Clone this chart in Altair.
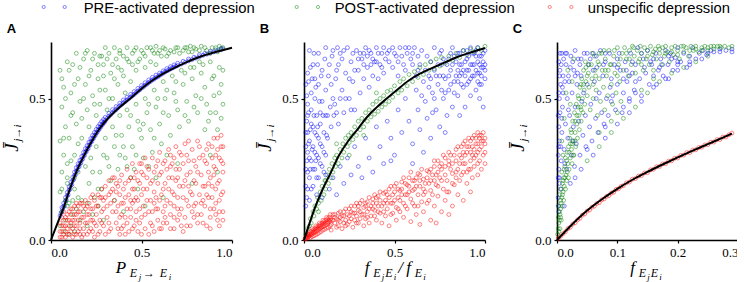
import altair as alt
import pandas as pd

SERIES = ["PRE", "POST", "unspec"]
COLORS = ["#0000ff", "#008000", "#ff0000"]
LEGEND_LABELS = ["PRE-activated depression", "POST-activated depression", "unspecific depression"]
SERIF = "'Liberation Serif', 'Times New Roman', 'DejaVu Serif', serif"
SANS = "'Liberation Sans', Arial, Helvetica, 'DejaVu Sans', sans-serif"

# ---------------- Panel A ----------------
A_curve_x = [0, 0.035, 0.07, 0.1, 0.135, 0.18, 0.227, 0.27, 0.319, 0.38, 0.438, 0.5, 0.558, 0.62, 0.687, 0.75, 0.816, 0.9, 1.0]
A_curve_y = [0, 0.058, 0.115, 0.172, 0.233, 0.295, 0.351, 0.395, 0.433, 0.47, 0.5, 0.535, 0.563, 0.588, 0.61, 0.629, 0.646, 0.663, 0.68]

A_pre = [(0.05,0.085),(0.055,0.095),(0.06,0.10),(0.065,0.11),(0.07,0.118),(0.075,0.122),(0.08,0.137),(0.085,0.142),
 (0.09,0.156),(0.095,0.16),(0.10,0.176),(0.105,0.18),(0.11,0.193),(0.115,0.196),(0.12,0.21),(0.125,0.214),(0.13,0.228),
 (0.135,0.231),(0.14,0.244),(0.145,0.245),(0.15,0.258),(0.155,0.259),(0.16,0.27),(0.165,0.272),(0.17,0.284),(0.175,0.286),
 (0.18,0.298),(0.185,0.299),(0.19,0.311),(0.195,0.312),(0.20,0.322),(0.205,0.323),(0.21,0.334),(0.215,0.336),(0.22,0.347),
 (0.225,0.348),(0.23,0.358),(0.235,0.359),(0.24,0.368),(0.245,0.37),(0.25,0.379),(0.255,0.38),(0.26,0.389),(0.265,0.39),
 (0.27,0.399),(0.275,0.399),(0.28,0.407),(0.285,0.408),(0.29,0.415),(0.295,0.416),(0.30,0.422),(0.31,0.43),(0.32,0.437),
 (0.33,0.443),(0.34,0.45),(0.35,0.456),(0.36,0.461),(0.37,0.468),(0.38,0.474),(0.39,0.479),(0.40,0.485),(0.41,0.49),
 (0.42,0.495),(0.43,0.5),(0.44,0.505),(0.45,0.51),(0.46,0.515),(0.47,0.521),(0.48,0.526),(0.49,0.531),(0.50,0.537),
 (0.51,0.541),(0.52,0.547),(0.53,0.551),(0.54,0.557),(0.55,0.561),(0.56,0.566),(0.57,0.569),(0.58,0.574),(0.59,0.577),
 (0.60,0.582),(0.61,0.586),(0.62,0.59),(0.63,0.594),(0.64,0.598),(0.65,0.601),(0.66,0.605),(0.67,0.608),(0.68,0.611),
 (0.69,0.614),(0.70,0.617),(0.72,0.622),(0.74,0.628),(0.76,0.633),(0.78,0.638),(0.80,0.643),(0.82,0.648),(0.84,0.653),
 (0.86,0.657),(0.88,0.661),(0.90,0.665),(0.92,0.669),(0.94,0.673),(0.95,0.676),
 (0.06,0.115),(0.07,0.13),(0.08,0.15),(0.09,0.168),(0.10,0.188),(0.11,0.205),(0.12,0.222),(0.13,0.24),(0.14,0.256),
 (0.15,0.27),(0.16,0.282),(0.17,0.296),(0.18,0.31),(0.19,0.323),(0.20,0.334),(0.21,0.346),(0.22,0.359),(0.23,0.37),
 (0.24,0.38),(0.25,0.391),(0.26,0.401),(0.27,0.41),(0.28,0.419),(0.29,0.426),(0.30,0.434),(0.32,0.448),(0.34,0.461),
 (0.36,0.472),(0.38,0.484),(0.40,0.495),(0.42,0.505),(0.44,0.515),(0.46,0.525),(0.48,0.536),(0.50,0.546),(0.52,0.556),
 (0.54,0.566),(0.56,0.575),(0.58,0.583),(0.60,0.59),(0.62,0.598),(0.64,0.606),(0.66,0.613),(0.68,0.619),(0.70,0.625),
 (0.73,0.632),(0.76,0.64),(0.79,0.646),(0.82,0.655),(0.85,0.66),(0.88,0.667),(0.91,0.672),(0.94,0.678)]

A_post = [(0.32,0.66),(0.35,0.68),(0.38,0.67),(0.40,0.65),(0.42,0.68),(0.45,0.66),(0.47,0.68),(0.50,0.67),(0.52,0.65),
 (0.55,0.68),(0.57,0.66),(0.60,0.67),(0.62,0.68),(0.64,0.65),(0.66,0.67),(0.69,0.68),(0.71,0.66),(0.74,0.68),(0.76,0.665),
 (0.79,0.68),(0.82,0.67),(0.85,0.68),(0.88,0.66),(0.91,0.68),(0.94,0.675),(0.27,0.65),(0.30,0.68),(0.58,0.685),(0.77,0.685),
 (0.93,0.685),
 (0.05,0.60),(0.07,0.54),(0.06,0.47),(0.08,0.40),(0.05,0.35),(0.07,0.30),(0.06,0.24),(0.09,0.20),(0.05,0.17),(0.10,0.60),
 (0.11,0.52),(0.12,0.45),(0.10,0.36),(0.13,0.30),(0.12,0.62),(0.15,0.57),(0.16,0.49),(0.14,0.41),(0.17,0.36),(0.18,0.64),
 (0.19,0.55),(0.20,0.46),(0.21,0.40),(0.22,0.60),(0.23,0.51),(0.25,0.44),(0.24,0.66),(0.26,0.57),(0.27,0.48),(0.29,0.62),
 (0.30,0.53),(0.31,0.46),(0.33,0.59),(0.34,0.50),(0.36,0.64),(0.37,0.55),(0.39,0.60),(0.41,0.52),(0.43,0.63),(0.44,0.56),
 (0.47,0.60),(0.49,0.64),(0.52,0.61),(0.55,0.63),(0.58,0.62),(0.08,0.50),(0.14,0.66),(0.20,0.67),(0.09,0.27),(0.15,0.34),
 (0.28,0.65),(0.18,0.50),
 (0.10,0.13),(0.13,0.18),(0.15,0.24),(0.17,0.14),(0.19,0.26),(0.21,0.20),(0.22,0.29),(0.24,0.15),(0.25,0.33),(0.27,0.24),
 (0.28,0.18),(0.30,0.36),(0.31,0.29),(0.33,0.21),(0.34,0.40),(0.35,0.33),(0.37,0.25),(0.38,0.44),(0.39,0.37),(0.41,0.29),
 (0.42,0.46),(0.43,0.40),(0.45,0.33),(0.46,0.25),(0.47,0.48),(0.48,0.42),(0.50,0.36),(0.51,0.29),(0.52,0.50),(0.53,0.45),
 (0.55,0.39),(0.56,0.31),(0.57,0.53),(0.58,0.47),(0.60,0.41),(0.61,0.34),(0.62,0.56),(0.63,0.50),(0.65,0.44),(0.66,0.37),
 (0.67,0.58),(0.68,0.52),(0.70,0.46),(0.71,0.40),(0.72,0.60),(0.73,0.55),(0.75,0.49),(0.76,0.42),(0.77,0.61),(0.78,0.57),
 (0.80,0.51),(0.81,0.45),(0.82,0.63),(0.83,0.59),(0.85,0.54),(0.86,0.48),(0.87,0.42),(0.88,0.63),(0.89,0.57),(0.90,0.51),
 (0.91,0.45),(0.92,0.39),(0.93,0.61),(0.94,0.55),(0.95,0.48),(0.94,0.43),(0.85,0.39),(0.64,0.30),(0.54,0.26),(0.44,0.22),
 (0.05,0.05),(0.06,0.10),(0.07,0.03),(0.08,0.07),(0.09,0.12),(0.11,0.05),(0.12,0.09),(0.13,0.03),(0.14,0.11),(0.16,0.07),
 (0.18,0.10),(0.20,0.05),(0.23,0.09),(0.26,0.12),(0.29,0.07),(0.35,0.14),(0.40,0.10),(0.48,0.18),(0.52,0.12),(0.58,0.22),
 (0.62,0.15),(0.70,0.27),(0.78,0.20),(0.88,0.30),(0.92,0.24),(0.10,0.02),(0.15,0.15),(0.06,0.18),(0.09,0.22),(0.12,0.14),
 (0.06,0.57),(0.09,0.63),(0.11,0.44),(0.13,0.55),(0.16,0.61),(0.17,0.43),(0.19,0.66),(0.21,0.58),(0.23,0.64),(0.24,0.48),
 (0.26,0.62),(0.27,0.53),(0.29,0.58),(0.31,0.64),(0.32,0.50),(0.34,0.62),(0.35,0.57),(0.37,0.61),(0.38,0.66),(0.40,0.58),
 (0.42,0.64),(0.45,0.62),(0.46,0.67),(0.48,0.63),(0.51,0.66),(0.53,0.68),(0.56,0.67),(0.59,0.66),(0.61,0.65),(0.63,0.675),
 (0.65,0.66),(0.68,0.665),(0.70,0.68),(0.73,0.67),(0.75,0.68),(0.78,0.665),(0.80,0.675),(0.83,0.685),(0.86,0.67),(0.89,0.68),
 (0.92,0.665),(0.95,0.68),(0.07,0.36),(0.11,0.28),(0.08,0.14),(0.13,0.22),(0.20,0.13),(0.23,0.24),(0.26,0.18),(0.29,0.30),
 (0.32,0.26),(0.36,0.37),(0.40,0.33),(0.44,0.44),(0.49,0.39),(0.54,0.48),(0.59,0.50),(0.64,0.53),(0.69,0.56),(0.74,0.59),
 (0.79,0.61),(0.84,0.62),(0.90,0.58),(0.95,0.60),(0.93,0.52),(0.88,0.45),(0.83,0.50),(0.79,0.47),(0.74,0.44),(0.69,0.49),
 (0.62,0.45),(0.57,0.36),(0.47,0.30),(0.51,0.41),(0.38,0.30),(0.42,0.26)]

A_unspec = [(0.05,0.01),(0.06,0.03),(0.05,0.06),(0.07,0.02),(0.07,0.05),(0.08,0.08),(0.06,0.08),(0.08,0.01),(0.09,0.04),
 (0.09,0.07),(0.10,0.10),(0.10,0.02),(0.11,0.06),(0.11,0.09),(0.12,0.01),(0.12,0.04),(0.12,0.11),(0.13,0.07),(0.13,0.12),
 (0.14,0.02),(0.14,0.05),(0.14,0.09),(0.15,0.12),(0.15,0.03),(0.16,0.06),(0.16,0.10),(0.17,0.13),(0.17,0.01),(0.18,0.04),
 (0.18,0.08),(0.19,0.11),(0.19,0.14),(0.20,0.02),(0.20,0.06),(0.21,0.09),(0.21,0.13),(0.22,0.04),(0.22,0.15),(0.23,0.07),
 (0.23,0.11),(0.24,0.01),(0.24,0.14),(0.25,0.05),(0.25,0.09),(0.26,0.16),(0.26,0.12),(0.27,0.03),(0.27,0.07),(0.28,0.18),
 (0.28,0.10),(0.29,0.14),(0.29,0.05),(0.30,0.02),(0.30,0.19),(0.07,0.10),
 (0.31,0.08),(0.31,0.12),(0.32,0.16),(0.32,0.21),(0.33,0.04),(0.34,0.10),(0.34,0.18),(0.35,0.14),(0.35,0.22),(0.36,0.06),
 (0.37,0.12),(0.37,0.19),(0.38,0.02),(0.38,0.16),(0.39,0.09),(0.39,0.23),(0.40,0.05),(0.40,0.13),(0.41,0.20),(0.42,0.11),
 (0.42,0.25),(0.43,0.03),(0.43,0.16),(0.44,0.08),(0.44,0.22),(0.45,0.13),(0.45,0.27),(0.46,0.05),(0.46,0.18),(0.47,0.10),
 (0.47,0.24),(0.48,0.14),(0.48,0.03),(0.49,0.20),(0.49,0.27),(0.50,0.08),(0.50,0.16),(0.51,0.12),(0.51,0.23),(0.52,0.04),
 (0.52,0.29),(0.53,0.18),(0.54,0.10),(0.54,0.25),(0.55,0.06),(0.55,0.14),(0.56,0.21),(0.56,0.29),(0.57,0.03),(0.57,0.17),
 (0.58,0.11),(0.58,0.26),(0.59,0.07),(0.59,0.20),(0.60,0.14),(0.60,0.31),
 (0.61,0.04),(0.61,0.24),(0.62,0.10),(0.62,0.18),(0.63,0.28),(0.64,0.06),(0.64,0.14),(0.65,0.22),(0.65,0.32),(0.66,0.09),
 (0.67,0.17),(0.67,0.27),(0.68,0.04),(0.68,0.12),(0.69,0.21),(0.69,0.33),(0.70,0.07),(0.70,0.15),(0.71,0.25),(0.72,0.11),
 (0.72,0.30),(0.73,0.03),(0.73,0.19),(0.74,0.08),(0.74,0.34),(0.75,0.14),(0.75,0.23),(0.76,0.28),(0.77,0.05),(0.77,0.17),
 (0.78,0.10),(0.78,0.32),(0.79,0.21),(0.80,0.13),(0.80,0.26),(0.81,0.06),(0.81,0.35),(0.82,0.16),(0.83,0.09),(0.83,0.23),
 (0.84,0.30),(0.85,0.12),(0.85,0.19),(0.86,0.05),(0.86,0.27),(0.87,0.34),(0.87,0.15),(0.88,0.08),(0.88,0.22),(0.89,0.29),
 (0.90,0.11),(0.90,0.36),(0.91,0.18),(0.91,0.25),(0.92,0.07),(0.92,0.32),(0.93,0.14),(0.93,0.21),(0.94,0.28),(0.94,0.37),
 (0.95,0.10),(0.95,0.24),(0.95,0.33),(0.88,0.04),(0.93,0.05),
 (0.05,0.03),(0.06,0.05),(0.06,0.01),(0.07,0.07),(0.08,0.03),(0.08,0.05),(0.09,0.02),(0.09,0.09),(0.10,0.05),(0.10,0.07),
 (0.11,0.03),(0.11,0.11),(0.12,0.07),(0.13,0.02),(0.13,0.05),(0.13,0.09),(0.14,0.13),(0.15,0.07),(0.15,0.10),(0.16,0.02),
 (0.16,0.04),(0.16,0.13),(0.17,0.08),(0.18,0.12),(0.18,0.02),(0.19,0.06),(0.20,0.09),(0.20,0.12),(0.21,0.03),(0.22,0.07),
 (0.22,0.11),(0.23,0.03),(0.24,0.06),(0.25,0.12),(0.26,0.02),(0.27,0.15),(0.28,0.06),(0.29,0.11),(0.30,0.15),(0.32,0.06),
 (0.33,0.13),(0.36,0.17),(0.39,0.04),(0.41,0.08),(0.44,0.14),(0.46,0.22),(0.49,0.06),(0.53,0.22),(0.56,0.10),(0.59,0.28),
 (0.63,0.20),(0.66,0.13),(0.68,0.29),(0.71,0.09),(0.73,0.27),(0.76,0.19),(0.79,0.08),(0.82,0.29),(0.84,0.14),(0.86,0.32),
 (0.89,0.19),(0.91,0.09),(0.93,0.29),(0.95,0.17),(0.90,0.26),(0.70,0.22),(0.50,0.24),(0.62,0.06),
 (0.32,0.03),(0.33,0.17),(0.34,0.22),(0.36,0.10),(0.36,0.20),(0.37,0.04),(0.38,0.08),(0.39,0.13),(0.40,0.18),(0.41,0.02),
 (0.41,0.15),(0.42,0.06),(0.43,0.21),(0.44,0.11),(0.45,0.04),(0.45,0.18),(0.46,0.14),(0.47,0.07),(0.48,0.21),(0.49,0.11),
 (0.50,0.02),(0.50,0.27),(0.51,0.18),(0.52,0.09),(0.53,0.14),(0.53,0.26),(0.54,0.02),(0.55,0.20),(0.56,0.05),(0.57,0.24),
 (0.58,0.15),(0.59,0.11),(0.60,0.04),(0.60,0.23),(0.61,0.16),(0.62,0.27),(0.63,0.08),(0.63,0.12),(0.64,0.25),(0.65,0.18),
 (0.66,0.04),(0.66,0.30),(0.67,0.22),(0.68,0.08),(0.68,0.16),(0.69,0.25),(0.70,0.11),(0.71,0.19),(0.71,0.31),(0.72,0.05),
 (0.73,0.15),(0.74,0.21),(0.75,0.05),(0.75,0.30),(0.76,0.12),(0.77,0.24),(0.78,0.16),(0.79,0.28),(0.79,0.12),(0.80,0.20),
 (0.81,0.09),(0.81,0.24),(0.82,0.33),(0.83,0.13),(0.84,0.19),(0.84,0.06),(0.85,0.28),(0.86,0.16),(0.87,0.24),(0.88,0.11),
 (0.89,0.33),(0.89,0.15),(0.90,0.23),(0.91,0.13),(0.91,0.30),(0.92,0.20),(0.93,0.10),(0.94,0.16),(0.94,0.33),(0.95,0.07),
 (0.95,0.27),(0.92,0.36),(0.87,0.20),(0.76,0.35),(0.66,0.26),(0.57,0.13),(0.47,0.15),(0.38,0.21),(0.28,0.15),(0.23,0.16)]

# ---------------- Panel B ----------------
B_curve_x = [0, 0.03, 0.061, 0.1, 0.144, 0.19, 0.245, 0.3, 0.346, 0.4, 0.457, 0.52, 0.577, 0.64, 0.715, 0.78, 0.844, 0.92, 1.0]
B_curve_y = [0, 0.058, 0.115, 0.175, 0.233, 0.295, 0.351, 0.395, 0.433, 0.468, 0.5, 0.534, 0.563, 0.588, 0.61, 0.628, 0.646, 0.663, 0.679]

B_pre = [(0.01,0.12),(0.02,0.18),(0.01,0.25),(0.02,0.31),(0.01,0.38),(0.02,0.44),(0.03,0.14),(0.03,0.22),(0.04,0.28),
 (0.03,0.35),(0.04,0.41),(0.05,0.19),(0.05,0.33),(0.06,0.25),(0.06,0.38),(0.07,0.44),(0.07,0.30),(0.08,0.22),(0.08,0.36),
 (0.09,0.27),(0.09,0.41),(0.10,0.33),(0.11,0.38),(0.11,0.24),(0.12,0.30),(0.12,0.44),(0.02,0.48),(0.04,0.52),(0.06,0.50),
 (0.08,0.55),(0.10,0.49),(0.12,0.53),(0.02,0.59),(0.05,0.62),(0.08,0.66),(0.10,0.60),(0.12,0.68),(0.03,0.67),(0.06,0.57),
 (0.09,0.45),(0.01,0.55),(0.04,0.46),(0.10,0.15),(0.07,0.16),
 (0.14,0.62),(0.15,0.55),(0.16,0.67),(0.17,0.48),(0.18,0.60),(0.19,0.41),(0.20,0.66),(0.21,0.53),(0.22,0.45),(0.23,0.59),
 (0.24,0.68),(0.25,0.50),(0.26,0.63),(0.27,0.56),(0.28,0.46),(0.29,0.67),(0.30,0.60),(0.31,0.52),(0.32,0.64),(0.33,0.57),
 (0.34,0.68),(0.35,0.61),(0.36,0.54),(0.37,0.66),(0.38,0.58),(0.39,0.63),(0.40,0.68),(0.41,0.57),(0.42,0.62),(0.43,0.66),
 (0.44,0.59),(0.45,0.64),
 (0.14,0.18),(0.16,0.22),(0.18,0.16),(0.20,0.26),(0.22,0.20),(0.24,0.29),(0.26,0.23),(0.28,0.33),(0.30,0.26),(0.32,0.22),
 (0.34,0.36),(0.36,0.29),(0.38,0.24),(0.40,0.40),(0.42,0.33),(0.44,0.27),(0.46,0.42),(0.48,0.36),(0.50,0.30),
 (0.47,0.67),(0.49,0.61),(0.51,0.65),(0.53,0.68),(0.55,0.62),(0.57,0.66),(0.59,0.64),(0.61,0.68),(0.63,0.65),(0.65,0.67),
 (0.52,0.58),(0.56,0.60),(0.60,0.62),
 (0.52,0.46),(0.54,0.38),(0.56,0.50),(0.58,0.42),(0.60,0.34),(0.62,0.53),(0.63,0.46),(0.64,0.39),(0.66,0.56),(0.67,0.49),
 (0.68,0.43),(0.69,0.58),(0.70,0.36),(0.71,0.52),(0.72,0.60),(0.73,0.46),(0.74,0.55),(0.75,0.40),(0.76,0.62),(0.77,0.50),
 (0.78,0.57),(0.79,0.44),(0.80,0.64),(0.80,0.53),(0.81,0.60),(0.82,0.47),(0.83,0.56),(0.84,0.63),(0.85,0.51),(0.85,0.66),
 (0.86,0.58),(0.87,0.62),(0.88,0.54),(0.88,0.67),(0.89,0.47),(0.90,0.60),(0.90,0.64),(0.91,0.56),(0.92,0.68),(0.92,0.51),
 (0.93,0.62),(0.94,0.58),(0.94,0.66),(0.95,0.53),(0.96,0.63),(0.96,0.68),(0.97,0.59),(0.98,0.55),(0.98,0.65),(0.99,0.61),
 (1.0,0.67),(1.0,0.57),(0.97,0.50),(0.99,0.47),(0.78,0.38),(0.66,0.31),(0.72,0.68),(0.75,0.66),(0.82,0.68),(0.86,0.44),
 (0.70,0.63),(0.60,0.27),(0.48,0.28),
 (0.01,0.19),(0.02,0.24),(0.01,0.33),(0.02,0.38),(0.03,0.29),(0.04,0.18),(0.05,0.25),(0.05,0.40),(0.06,0.31),(0.07,0.22),
 (0.07,0.37),(0.08,0.29),(0.09,0.34),(0.10,0.26),(0.11,0.31),(0.12,0.23),(0.13,0.36),(0.13,0.44),(0.15,0.40),(0.16,0.50),
 (0.18,0.45),(0.19,0.62),(0.21,0.64),(0.23,0.50),(0.26,0.46),(0.28,0.60),(0.31,0.66),(0.33,0.62),(0.36,0.67),(0.38,0.64),
 (0.41,0.66),(0.44,0.68),(0.47,0.63),(0.50,0.66),(0.54,0.65),(0.58,0.68),(0.62,0.58),(0.64,0.62),(0.67,0.60),(0.69,0.54),
 (0.71,0.45),(0.73,0.58),(0.74,0.62),(0.76,0.53),(0.77,0.58),(0.79,0.62),(0.81,0.55),(0.83,0.65),(0.84,0.58),(0.86,0.62),
 (0.87,0.55),(0.89,0.63),(0.91,0.60),(0.92,0.57),(0.93,0.66),(0.95,0.60),(0.96,0.56),(0.97,0.65),(0.98,0.61),(0.99,0.66),
 (1.0,0.62),(0.95,0.65),(0.90,0.67),(0.85,0.60),(0.81,0.66),(0.76,0.67),
 (0.015,0.15),(0.015,0.28),(0.015,0.42),(0.015,0.51),(0.025,0.34),(0.025,0.45),(0.025,0.56),(0.035,0.25),(0.035,0.39),
 (0.035,0.61),(0.045,0.32),(0.045,0.57),(0.055,0.44),(0.055,0.66),(0.065,0.28),(0.065,0.54),(0.075,0.40),(0.075,0.62),
 (0.085,0.49),(0.095,0.58),(0.105,0.44),(0.115,0.64),(0.125,0.37),(0.135,0.58),(0.145,0.47),(0.155,0.65),(0.165,0.44),
 (0.175,0.57),(0.185,0.68),(0.2,0.50),(0.22,0.67),(0.25,0.57),(0.27,0.66),(0.30,0.64),(0.33,0.66),(0.35,0.65),(0.37,0.62),
 (0.40,0.63),(0.43,0.61),(0.46,0.66),(0.49,0.68),(0.52,0.63),(0.56,0.68),(0.60,0.66),(0.63,0.60),(0.65,0.51),(0.68,0.65),
 (0.70,0.57),(0.72,0.50),(0.75,0.58),(0.77,0.64),(0.78,0.52),(0.80,0.58),(0.82,0.62),(0.83,0.52),(0.85,0.56),(0.86,0.66),
 (0.87,0.59),(0.88,0.60),(0.89,0.58),(0.90,0.55),(0.91,0.65),(0.92,0.62),(0.93,0.58),(0.94,0.62),(0.95,0.67),(0.96,0.59),
 (0.97,0.62),(0.98,0.58),(0.99,0.63),(1.0,0.60),(0.97,0.55)]

B_post = [(0.01,0.02),(0.02,0.04),(0.03,0.05),(0.035,0.075),(0.04,0.06),(0.05,0.10),(0.055,0.085),(0.06,0.12),(0.07,0.11),
 (0.075,0.15),(0.08,0.13),(0.09,0.17),(0.095,0.14),(0.10,0.19),(0.11,0.16),(0.115,0.21),(0.12,0.18),(0.13,0.23),(0.135,0.20),
 (0.14,0.25),(0.15,0.22),(0.155,0.27),(0.16,0.24),(0.17,0.29),(0.175,0.26),(0.18,0.30),(0.19,0.27),(0.20,0.32),(0.21,0.29),
 (0.215,0.34),(0.22,0.31),(0.23,0.36),(0.24,0.33),(0.245,0.37),(0.25,0.345),(0.26,0.38),(0.27,0.355),(0.28,0.40),(0.29,0.37),
 (0.30,0.42),(0.31,0.39),(0.32,0.43),(0.33,0.40),(0.34,0.45),(0.35,0.42),(0.36,0.46),(0.37,0.435),(0.38,0.48),(0.39,0.445),
 (0.40,0.49),(0.41,0.455),(0.42,0.50),(0.43,0.47),(0.44,0.51),(0.45,0.48),(0.46,0.525),(0.47,0.49),(0.48,0.53),(0.49,0.505),
 (0.50,0.545),(0.52,0.52),(0.53,0.56),(0.54,0.53),(0.55,0.57),(0.57,0.545),(0.58,0.585),(0.60,0.56),(0.61,0.595),(0.63,0.575),
 (0.64,0.61),(0.66,0.585),(0.67,0.62),(0.69,0.60),(0.70,0.63),(0.72,0.605),(0.73,0.64),(0.75,0.615),(0.76,0.645),(0.78,0.625),
 (0.80,0.65),(0.82,0.635),(0.84,0.66),(0.86,0.645),(0.88,0.67),(0.90,0.655),(0.92,0.675),(0.94,0.665),(0.96,0.68),(0.98,0.67),
 (1.0,0.685),(0.25,0.30),(0.18,0.34),(0.33,0.37),(0.40,0.52),(0.12,0.21),(0.08,0.10)]

B_unspec = [(0.005,0.003),(0.01,0.01),(0.012,0.005),(0.015,0.015),(0.02,0.008),(0.022,0.02),(0.025,0.012),(0.03,0.025),
 (0.032,0.015),(0.035,0.008),(0.04,0.03),(0.042,0.02),(0.045,0.012),(0.05,0.035),(0.052,0.025),(0.055,0.015),(0.06,0.04),
 (0.062,0.028),(0.065,0.018),(0.07,0.045),(0.072,0.033),(0.075,0.022),(0.08,0.05),(0.082,0.038),(0.085,0.026),(0.09,0.055),
 (0.092,0.042),(0.095,0.03),(0.10,0.06),(0.102,0.047),(0.105,0.035),(0.11,0.065),(0.112,0.05),(0.115,0.038),(0.12,0.07),
 (0.122,0.055),(0.125,0.042),(0.13,0.075),(0.132,0.06),(0.135,0.045),(0.14,0.08),(0.142,0.065),(0.145,0.05),(0.15,0.035),
 (0.15,0.07),
 (0.16,0.09),(0.17,0.06),(0.18,0.075),(0.18,0.045),(0.19,0.095),(0.20,0.065),(0.21,0.085),(0.21,0.04),(0.22,0.10),(0.23,0.07),
 (0.24,0.055),(0.24,0.09),(0.25,0.11),(0.26,0.075),(0.27,0.045),(0.27,0.095),(0.28,0.12),(0.29,0.085),(0.30,0.06),(0.30,0.105),
 (0.31,0.13),(0.32,0.09),(0.33,0.05),(0.33,0.115),(0.34,0.075),(0.35,0.135),(0.35,0.10),(0.36,0.06),(0.37,0.12),(0.37,0.085),
 (0.38,0.145),(0.39,0.105),(0.40,0.07),(0.40,0.13),
 (0.41,0.155),(0.42,0.095),(0.43,0.12),(0.43,0.06),(0.44,0.165),(0.45,0.14),(0.45,0.085),(0.46,0.11),(0.47,0.18),(0.47,0.05),
 (0.48,0.13),(0.49,0.16),(0.49,0.095),(0.50,0.19),(0.51,0.115),(0.51,0.07),(0.52,0.15),(0.53,0.175),(0.53,0.10),(0.54,0.205),
 (0.55,0.13),(0.55,0.08),(0.56,0.16),(0.57,0.195),(0.57,0.11),(0.58,0.22),(0.59,0.145),(0.59,0.065),(0.60,0.175),(0.61,0.21),
 (0.61,0.12),(0.62,0.09),(0.63,0.16),(0.63,0.235),(0.64,0.19),(0.65,0.135),(0.66,0.215),(0.66,0.10),(0.67,0.17),(0.68,0.245),
 (0.69,0.20),(0.69,0.14),(0.70,0.07),(0.70,0.175),
 (0.71,0.23),(0.72,0.26),(0.72,0.12),(0.73,0.195),(0.74,0.155),(0.74,0.28),(0.75,0.22),(0.76,0.10),(0.76,0.25),(0.77,0.18),
 (0.78,0.29),(0.78,0.14),(0.79,0.21),(0.80,0.265),(0.80,0.17),(0.81,0.30),(0.82,0.235),(0.82,0.12),(0.83,0.195),(0.84,0.28),
 (0.84,0.32),(0.85,0.25),(0.85,0.16),(0.86,0.21),(0.87,0.33),(0.87,0.29),(0.88,0.24),(0.88,0.14),(0.89,0.27),(0.89,0.35),
 (0.90,0.20),(0.90,0.31),(0.91,0.25),(0.91,0.36),(0.92,0.28),(0.92,0.17),(0.93,0.33),(0.93,0.22),(0.94,0.37),(0.94,0.26),
 (0.95,0.30),(0.95,0.34),(0.96,0.23),(0.96,0.38),(0.97,0.28),(0.97,0.32),(0.98,0.35),(0.98,0.25),(0.99,0.38),(0.99,0.30),
 (1.0,0.34),(1.0,0.27),(0.73,0.06),(0.64,0.055),(0.80,0.09),
 (0.008,0.006),(0.018,0.012),(0.028,0.018),(0.038,0.022),(0.048,0.028),(0.058,0.032),(0.068,0.038),(0.078,0.042),
 (0.088,0.047),(0.098,0.052),(0.108,0.056),(0.118,0.06),(0.128,0.064),(0.138,0.07),(0.148,0.075),(0.02,0.02),(0.045,0.04),
 (0.065,0.05),(0.085,0.06),(0.105,0.07),(0.125,0.08),(0.145,0.09),(0.17,0.08),(0.19,0.07),(0.20,0.10),(0.22,0.06),(0.23,0.11),
 (0.25,0.085),(0.26,0.12),(0.28,0.07),(0.29,0.13),(0.31,0.10),(0.32,0.14),(0.34,0.12),(0.36,0.15),(0.38,0.11),(0.39,0.16),
 (0.41,0.12),(0.42,0.17),(0.44,0.13),(0.46,0.16),(0.48,0.19),(0.50,0.14),(0.52,0.18),(0.54,0.16),(0.56,0.20),(0.58,0.17),
 (0.60,0.21),(0.62,0.19),(0.64,0.23),(0.66,0.18),(0.68,0.22),(0.70,0.25),(0.72,0.21),(0.74,0.24),(0.76,0.27),(0.78,0.23),
 (0.80,0.28),(0.82,0.27),(0.84,0.24),(0.86,0.30),(0.88,0.31),(0.90,0.33),(0.92,0.35),(0.94,0.32),(0.96,0.34),(0.98,0.37),
 (1.0,0.36),(0.97,0.36),(0.93,0.30),
 (0.15,0.055),(0.16,0.07),(0.17,0.09),(0.19,0.05),(0.20,0.08),(0.22,0.085),(0.23,0.05),(0.25,0.065),(0.26,0.10),(0.28,0.095),
 (0.29,0.06),(0.30,0.12),(0.31,0.075),(0.33,0.09),(0.34,0.13),(0.35,0.08),(0.36,0.11),(0.38,0.13),(0.39,0.085),(0.40,0.15),
 (0.41,0.10),(0.42,0.14),(0.44,0.10),(0.45,0.17),(0.46,0.13),(0.47,0.15),(0.48,0.09),(0.49,0.13),(0.50,0.17),(0.51,0.20),
 (0.52,0.11),(0.53,0.14),(0.54,0.18),(0.55,0.22),(0.56,0.12),(0.57,0.16),(0.58,0.19),(0.59,0.24),(0.60,0.13),(0.61,0.18),
 (0.62,0.22),(0.63,0.12),(0.64,0.21),(0.65,0.25),(0.66,0.16),(0.67,0.20),(0.68,0.13),(0.69,0.24),(0.70,0.21),(0.71,0.16),
 (0.72,0.28),(0.73,0.23),(0.74,0.19),(0.75,0.26),(0.76,0.21),(0.77,0.30),(0.78,0.26),(0.79,0.17),(0.80,0.31),(0.81,0.25),
 (0.82,0.20),(0.83,0.30),(0.84,0.22),(0.85,0.33),(0.86,0.27),(0.87,0.23),(0.88,0.34),(0.89,0.30),(0.90,0.24),(0.91,0.33),
 (0.92,0.31),(0.93,0.36),(0.94,0.29),(0.95,0.36),(0.96,0.31),(0.97,0.37),(0.98,0.33),(0.99,0.35),(1.0,0.31),(0.96,0.27),
 (0.92,0.25),(0.88,0.27)]

# ---------------- Panel C ----------------
C_curve_x = [0, 0.025, 0.05, 0.075, 0.1, 0.125, 0.15, 0.175, 0.2, 0.225, 0.25, 0.275, 0.29]
C_curve_y = [0, 0.055, 0.104, 0.145, 0.181, 0.213, 0.241, 0.267, 0.292, 0.316, 0.339, 0.362, 0.376]

C_pre = [(0.003,0.10),(0.002,0.15),(0.004,0.20),(0.003,0.25),(0.002,0.30),(0.004,0.35),(0.003,0.40),(0.005,0.45),
 (0.004,0.50),(0.006,0.55),(0.005,0.60),(0.007,0.28),(0.008,0.38),(0.006,0.18),(0.009,0.47),(0.01,0.58),(0.012,0.12),
 (0.012,0.32),(0.014,0.41),(0.015,0.62),(0.016,0.25),(0.017,0.50),(0.018,0.36),(0.02,0.56),(0.021,0.44),(0.022,0.20),
 (0.023,0.65),(0.024,0.30),(0.025,0.52),(0.027,0.40),(0.028,0.60),(0.029,0.26),(0.03,0.47),(0.032,0.34),(0.033,0.55),
 (0.035,0.64),(0.036,0.42),(0.038,0.30),(0.04,0.58),(0.041,0.49),(0.043,0.37),(0.045,0.66),(0.047,0.44),(0.048,0.33),
 (0.05,0.55),(0.052,0.62),(0.054,0.40),(0.056,0.48),(0.058,0.35),(0.06,0.66),(0.062,0.56),(0.064,0.43),(0.066,0.61),
 (0.068,0.38),(0.07,0.52),(0.072,0.67),(0.074,0.45),(0.076,0.58),(0.078,0.41),(0.08,0.63),(0.082,0.50),(0.085,0.44),
 (0.087,0.66),(0.09,0.57),(0.092,0.51),(0.095,0.62),(0.097,0.46),(0.10,0.55),(0.103,0.66),(0.105,0.60),(0.108,0.45),
 (0.11,0.52),(0.113,0.63),(0.116,0.56),(0.12,0.49),(0.122,0.66),(0.125,0.59),(0.128,0.53),(0.13,0.62),(0.134,0.68),
 (0.137,0.57),(0.14,0.51),(0.143,0.64),(0.147,0.59),(0.15,0.67),(0.153,0.55),(0.157,0.62),(0.16,0.58),(0.164,0.66),
 (0.168,0.60),(0.172,0.64),(0.176,0.58),(0.18,0.67),(0.184,0.62),(0.188,0.66),(0.192,0.60),(0.196,0.645),(0.2,0.68),
 (0.205,0.63),(0.21,0.66),(0.215,0.61),(0.22,0.65),(0.225,0.68),(0.23,0.64),(0.236,0.66),(0.242,0.67),(0.248,0.655),
 (0.255,0.67),(0.26,0.665),(0.27,0.675),(0.28,0.67),(0.29,0.665),(0.29,0.675),(0.003,0.63),(0.008,0.66),(0.014,0.66),
 (0.03,0.67),(0.038,0.62),(0.06,0.60),(0.12,0.58),(0.165,0.55),(0.185,0.57),(0.09,0.49),
 (0.004,0.22),(0.006,0.33),(0.008,0.43),(0.01,0.52),(0.013,0.27),(0.019,0.46),(0.026,0.35),(0.034,0.59),(0.044,0.52),
 (0.055,0.64),(0.065,0.50),(0.077,0.62),(0.088,0.54),(0.1,0.64),(0.115,0.60),(0.13,0.56),(0.145,0.61),(0.16,0.64),
 (0.175,0.62),(0.19,0.64),
 (0.002,0.12),(0.002,0.22),(0.003,0.33),(0.002,0.44),(0.003,0.52),(0.004,0.58),(0.005,0.66),(0.007,0.62),(0.009,0.54),
 (0.011,0.64),(0.013,0.56),(0.016,0.66),(0.019,0.58),(0.022,0.61),(0.026,0.63),(0.03,0.58),(0.04,0.64),(0.05,0.66),
 (0.065,0.65),(0.08,0.66),(0.1,0.61),(0.11,0.57),(0.125,0.63),(0.14,0.66),(0.155,0.63),(0.17,0.61),(0.185,0.65),(0.2,0.63),
 (0.22,0.63),(0.25,0.66),(0.27,0.665),
 (0.06,0.30),(0.08,0.36),(0.10,0.41),(0.12,0.45),(0.14,0.49),(0.16,0.54),(0.18,0.57),(0.20,0.60),(0.22,0.62),(0.24,0.64),
 (0.04,0.25),(0.03,0.22),(0.12,0.50),(0.08,0.40),(0.05,0.32),(0.13,0.52),(0.20,0.62),(0.11,0.47)]

C_post = [(0.001,0.02),(0.002,0.04),(0.003,0.06),(0.002,0.08),(0.004,0.10),(0.003,0.12),(0.005,0.09),(0.006,0.14),
 (0.004,0.16),(0.007,0.18),(0.006,0.11),(0.008,0.15),(0.009,0.20),(0.01,0.17),(0.011,0.22),(0.008,0.24),(0.012,0.19),
 (0.013,0.26),(0.015,0.23),(0.014,0.29),(0.016,0.21),(0.018,0.27),(0.017,0.31),(0.02,0.25),(0.019,0.33),(0.022,0.29),
 (0.021,0.36),(0.024,0.32),(0.025,0.27),(0.023,0.39),(0.027,0.35),(0.028,0.30),(0.026,0.42),(0.03,0.38),(0.031,0.33),
 (0.029,0.45),(0.033,0.41),(0.034,0.36),(0.032,0.48),(0.036,0.44),(0.037,0.39),(0.035,0.51),(0.039,0.47),(0.04,0.42),
 (0.038,0.54),(0.042,0.50),(0.043,0.45),(0.041,0.57),(0.045,0.53),(0.046,0.48),(0.044,0.60),(0.048,0.56),(0.05,0.51),
 (0.047,0.63),(0.052,0.59),(0.053,0.54),(0.055,0.46),(0.057,0.62),(0.058,0.57),(0.06,0.50),(0.062,0.65),(0.063,0.60),
 (0.065,0.53),(0.067,0.44),(0.068,0.63),(0.07,0.57),(0.072,0.49),(0.074,0.66),(0.075,0.60),(0.077,0.54),(0.079,0.46),
 (0.08,0.64),(0.082,0.58),(0.084,0.51),(0.086,0.67),(0.088,0.62),(0.09,0.55),(0.092,0.48),(0.094,0.65),(0.096,0.59),
 (0.098,0.52),(0.10,0.68),(0.102,0.62),(0.104,0.56),(0.106,0.49),
 (0.108,0.66),(0.11,0.60),(0.112,0.68),(0.115,0.64),(0.118,0.58),(0.12,0.67),(0.123,0.62),(0.125,0.685),(0.128,0.65),
 (0.13,0.59),(0.133,0.67),(0.135,0.63),(0.138,0.685),(0.14,0.66),(0.143,0.60),(0.145,0.68),(0.148,0.64),(0.15,0.67),
 (0.153,0.62),(0.155,0.685),(0.158,0.655),(0.16,0.60),(0.163,0.675),(0.165,0.64),(0.168,0.685),(0.17,0.66),(0.173,0.62),
 (0.175,0.68),(0.178,0.65),(0.18,0.685),(0.183,0.665),(0.186,0.63),(0.19,0.68),(0.193,0.655),(0.196,0.685),(0.2,0.67),
 (0.203,0.64),(0.206,0.685),(0.21,0.665),(0.214,0.68),(0.218,0.65),(0.222,0.685),(0.226,0.67),(0.23,0.685),(0.235,0.665),
 (0.24,0.68),(0.245,0.685),(0.25,0.67),(0.255,0.685),(0.26,0.675),(0.266,0.685),(0.272,0.68),(0.278,0.685),(0.285,0.68),
 (0.29,0.685),(0.012,0.43),(0.015,0.52),(0.018,0.60),(0.022,0.48),(0.025,0.56),(0.028,0.64),(0.008,0.35),(0.01,0.30),
 (0.005,0.04),(0.007,0.07),(0.009,0.12),(0.011,0.14),(0.014,0.18),(0.017,0.24),(0.02,0.31),(0.025,0.34),(0.03,0.42),
 (0.035,0.47),(0.04,0.55),(0.05,0.58),(0.06,0.55),(0.07,0.62),(0.08,0.60),(0.09,0.62),(0.1,0.58),(0.12,0.64),(0.14,0.62),
 (0.16,0.665),(0.18,0.66),(0.2,0.655),(0.22,0.67),(0.24,0.67),(0.26,0.685),
 (0.003,0.03),(0.004,0.07),(0.006,0.08),(0.007,0.13),(0.009,0.16),(0.01,0.21),(0.012,0.25),(0.013,0.22),(0.016,0.28),
 (0.019,0.22),(0.022,0.34),(0.024,0.38),(0.027,0.30),(0.03,0.35),(0.033,0.44),(0.036,0.50),(0.04,0.46),(0.044,0.55),
 (0.048,0.61),(0.053,0.62),(0.058,0.66),(0.064,0.58),(0.07,0.66),(0.078,0.67),(0.085,0.60),(0.095,0.67),(0.105,0.64),
 (0.115,0.66),(0.127,0.68),(0.137,0.64),(0.15,0.65),(0.17,0.675),(0.19,0.665),(0.21,0.685),(0.23,0.675),(0.25,0.68),
 (0.27,0.685),
 (0.07,0.33),(0.09,0.38),(0.11,0.43),(0.13,0.47),(0.15,0.52),(0.17,0.56),(0.19,0.59),(0.21,0.61),(0.23,0.63),(0.25,0.65),
 (0.05,0.28),(0.07,0.38),(0.10,0.45),(0.14,0.53),(0.16,0.57),(0.09,0.42)]

C_unspec_x = [0.002, 0.006, 0.01, 0.014, 0.018, 0.022, 0.026, 0.03, 0.034, 0.038, 0.042, 0.046, 0.05, 0.054, 0.058, 0.062,
 0.066, 0.07, 0.074, 0.078, 0.082, 0.086, 0.09, 0.094, 0.098, 0.102, 0.106, 0.11, 0.115, 0.12, 0.125, 0.13, 0.135, 0.14,
 0.145, 0.15, 0.155, 0.16, 0.165, 0.17, 0.175, 0.18, 0.185, 0.19, 0.195, 0.2, 0.205, 0.21, 0.215, 0.22, 0.225, 0.23, 0.235,
 0.24, 0.245, 0.25, 0.255, 0.26, 0.265, 0.27, 0.275, 0.28, 0.285, 0.29]
C_unspec_y = [0.005, 0.013, 0.022, 0.029, 0.040, 0.045, 0.056, 0.061, 0.071, 0.077, 0.088, 0.092, 0.102, 0.106, 0.116, 0.120,
 0.129, 0.132, 0.142, 0.145, 0.154, 0.157, 0.166, 0.169, 0.179, 0.181, 0.189, 0.192, 0.202, 0.205, 0.215, 0.217, 0.226, 0.228,
 0.237, 0.238, 0.248, 0.250, 0.259, 0.260, 0.269, 0.270, 0.279, 0.280, 0.289, 0.290, 0.299, 0.300, 0.309, 0.309, 0.318, 0.319,
 0.327, 0.328, 0.336, 0.337, 0.346, 0.346, 0.355, 0.355, 0.364, 0.364, 0.372, 0.378]
C_unspec = list(zip(C_unspec_x, C_unspec_y))

# ---------------- text pieces (pixel offsets from each plot's top-left) ----------------
Y_TITLE = [("J\u0304", -33.0, 105.5, 19, 270), ("j\u2192i", -30.5, 91, 11, 270)]
A_XTITLE = [("P", 64.7, 231, 17), ("E", 78.7, 235, 12), ("j", 87.7, 238, 9), ("\u2192", 92.0, 235, 12),
            ("E", 108.7, 235, 12), ("i", 117.7, 238, 9)]
B_XTITLE = [("f", 60.7, 231, 17), ("E", 69.2, 235, 12), ("j", 77.7, 238, 9), ("E", 81.2, 235, 12),
            ("i", 89.7, 238, 9), ("/", 94.2, 231, 17), ("f", 102.2, 231, 17), ("E", 110.7, 235, 12),
            ("i", 119.2, 238, 9)]
C_XTITLE = [("f", 73.3, 231, 17), ("E", 81.8, 235, 12), ("j", 90.3, 238, 9), ("E", 93.8, 235, 12),
            ("i", 102.3, 238, 9)]
LEGEND_MARK_X = [-7.3, 13.7, 245.7, 267.0, 498.7, 520.4]
LEGEND_TEXT_X = [32.7, 283.7, 536.7]


def points_df(pre, post, unspec):
    rows = []
    for s, pts in zip(SERIES, [pre, post, unspec]):
        for x, y in pts:
            rows.append({"x": x, "y": y, "s": s})
    return pd.DataFrame(rows)


def pix_enc(**extra):
    enc = dict(x=alt.X("px:Q", scale=None, axis=None), y=alt.Y("py:Q", scale=None, axis=None))
    enc.update(extra)
    return enc


def panel(pre, post, unspec, cx, cy, xdom, xticks, xtitle, letter, with_legend=False):
    xs = alt.Scale(domain=xdom, nice=False, zero=False)
    ys = alt.Scale(domain=[0, 0.7], nice=False, zero=False)
    scatter = alt.Chart(points_df(pre, post, unspec)).mark_point(
        shape="circle", filled=False, size=15, strokeWidth=0.9, opacity=0.55
    ).encode(
        x=alt.X("x:Q", scale=xs, axis=alt.Axis(values=xticks, format=".1f", title=None)),
        y=alt.Y("y:Q", scale=ys, axis=alt.Axis(values=[0, 0.5], format=".1f", title=None)),
        color=alt.Color("s:N", scale=alt.Scale(domain=SERIES, range=COLORS), legend=None),
    )
    line = alt.Chart(pd.DataFrame({"x": cx, "y": cy})).mark_line(
        color="black", strokeWidth=2, interpolate="monotone"
    ).encode(x="x:Q", y="y:Q")

    ydf = pd.DataFrame(Y_TITLE, columns=["t", "px", "py", "fs", "ang"])
    ytitle = alt.Chart(ydf).mark_text(
        font=SERIF, fontStyle="italic", align="center", baseline="alphabetic", color="black"
    ).encode(**pix_enc(text="t:N", size=alt.Size("fs:Q", scale=None, legend=None),
                       angle=alt.Angle("ang:Q", scale=None)))

    xdf = pd.DataFrame(xtitle, columns=["t", "px", "py", "fs"])
    xt = alt.Chart(xdf).mark_text(
        font=SERIF, fontStyle="italic", align="left", baseline="alphabetic", color="black"
    ).encode(**pix_enc(text="t:N", size=alt.Size("fs:Q", scale=None, legend=None)))

    ldf = pd.DataFrame({"t": [letter], "px": [-44.3], "py": [-9]})
    lab = alt.Chart(ldf).mark_text(
        font=SANS, fontWeight="bold", fontSize=13, align="left", baseline="alphabetic", color="black"
    ).encode(**pix_enc(text="t:N"))

    layers = [scatter, line, ytitle, xt, lab]
    if with_legend:
        mdf = pd.DataFrame({"px": LEGEND_MARK_X, "py": [-35] * 6,
                            "c": [COLORS[0], COLORS[0], COLORS[1], COLORS[1], COLORS[2], COLORS[2]]})
        marks = alt.Chart(mdf).mark_point(shape="circle", filled=False, size=10, strokeWidth=1, opacity=0.5).encode(
            **pix_enc(color=alt.Color("c:N", scale=None, legend=None)))
        tdf = pd.DataFrame({"t": LEGEND_LABELS, "px": LEGEND_TEXT_X, "py": [-29.3] * 3})
        texts = alt.Chart(tdf).mark_text(
            font=SANS, fontSize=14.8, align="left", baseline="alphabetic", color="black"
        ).encode(**pix_enc(text="t:N"))
        layers += [marks, texts]
    return alt.layer(*layers).properties(width=181, height=198)


pA = panel(A_pre, A_post, A_unspec, A_curve_x, A_curve_y, [0, 1], [0, 0.5, 1.0], A_XTITLE, "A", with_legend=True)
pB = panel(B_pre, B_post, B_unspec, B_curve_x, B_curve_y, [0, 1], [0, 0.5, 1.0], B_XTITLE, "B")
pC = panel(C_pre, C_post, C_unspec, C_curve_x, C_curve_y, [0, 0.3], [0, 0.1, 0.2, 0.3], C_XTITLE, "C")

chart = alt.hconcat(pA, pB, pC, spacing=72, bounds="flush").properties(
    padding={"left": 3, "top": 0, "right": -2, "bottom": 0}
).configure_view(stroke=None).configure_axis(
    grid=False, domainColor="black", domainWidth=1.6, tickColor="black", tickWidth=1.2, tickSize=3,
    labelFont=SERIF, labelFontSize=13, labelColor="black", labelPadding=3,
)

chart.save("out.html", embed_options={"renderer": "svg", "actions": False})
